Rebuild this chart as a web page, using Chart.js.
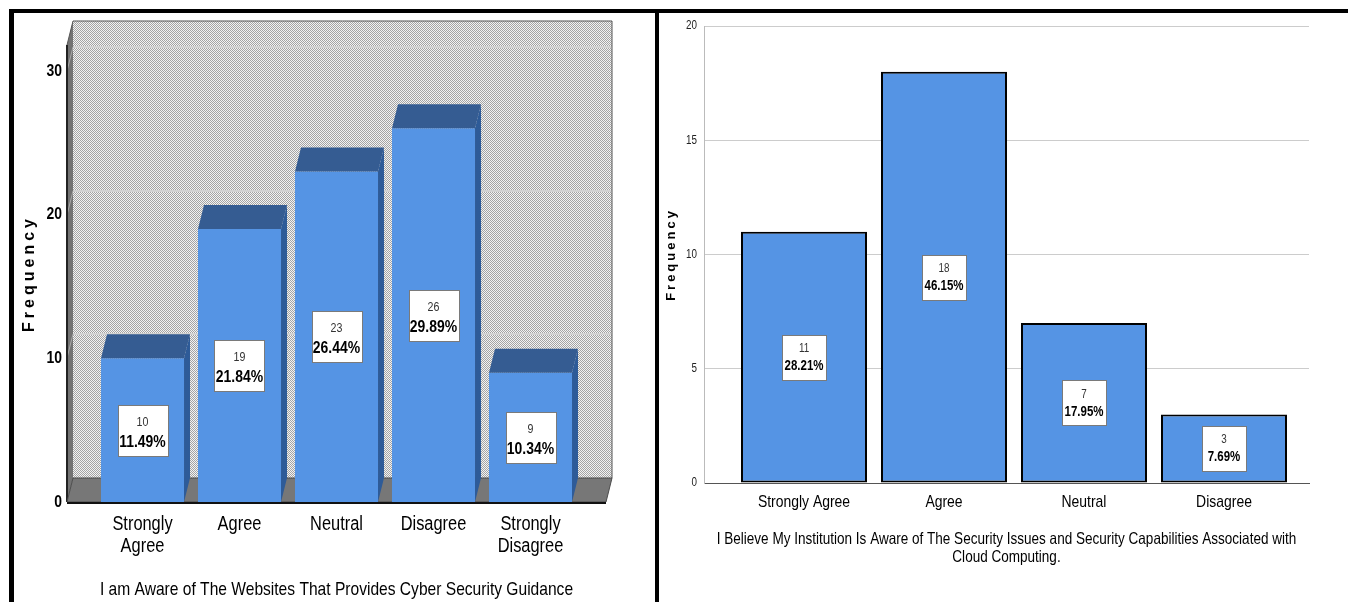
<!DOCTYPE html>
<html>
<head>
<meta charset="utf-8">
<script src="https://cdn.jsdelivr.net/npm/chart.js@4.4.1/dist/chart.umd.min.js"></script>
<style>
  html, body { margin: 0; padding: 0; background: #fff; }
  body { width: 1348px; height: 602px; position: relative; overflow: hidden; }
  canvas { position: absolute; top: 0; }
  #websites { left: 0; }
  #cloud { left: 659px; }
  .rule { position: absolute; background: #000; }
</style>
</head>
<body>
<canvas id="websites" width="655" height="602"></canvas>
<canvas id="cloud" width="689" height="602"></canvas>
<div class="rule" style="left:9px;top:9px;width:1339px;height:4px"></div>
<div class="rule" style="left:9px;top:9px;width:5px;height:593px"></div>
<div class="rule" style="left:655px;top:9px;width:4px;height:593px"></div>
<script>
// ---- data: website awareness survey item ----
const webCategories = ['Strongly Agree', 'Agree', 'Neutral', 'Disagree', 'Strongly Disagree'];
const webCounts = [10, 19, 23, 26, 9];
const webPercents = ['11.49%', '21.84%', '26.44%', '29.89%', '10.34%'];
const webTicks = [0, 10, 20, 30];
const webTitle = 'I am Aware of The Websites That Provides Cyber Security Guidance';

// ---- data: cloud computing security item ----
const cloudCategories = ['Strongly Agree', 'Agree', 'Neutral', 'Disagree'];
const cloudCounts = [11, 18, 7, 3];
const cloudPercents = ['28.21%', '46.15%', '17.95%', '7.69%'];
const cloudTicks = [0, 5, 10, 15, 20];
const cloudTitle = [
  'I Believe My Institution Is Aware of The Security Issues and Security Capabilities Associated with',
  'Cloud Computing.'
];

const NARROW = "'Liberation Sans Narrow', 'Liberation Sans', Arial, sans-serif";
const WIDE = "'Liberation Sans', Arial, sans-serif";
const BAR_BLUE = '#5594e4';
const NARROW_SCALE = 0.82;

// condensed text: any font stack naming the narrow face is drawn horizontally compressed
const narrowText = {
  id: 'narrowText',
  beforeInit(chart) {
    const ctx = chart.ctx;
    const fill = ctx.fillText.bind(ctx);
    ctx.fillText = function (text, x, y, maxWidth) {
      if (!this.font.includes('Narrow')) {
        return maxWidth === undefined ? fill(text, x, y) : fill(text, x, y, maxWidth);
      }
      this.save();
      this.translate(x, y);
      this.scale(NARROW_SCALE, 1);
      if (maxWidth === undefined) fill(text, 0, 0);
      else fill(text, 0, 0, maxWidth / NARROW_SCALE);
      this.restore();
    };
  }
};

// letter-spaced axis title for the vertical "Frequency" caption
const spacedTitle = {
  id: 'spacedTitle',
  afterLayout(chart, args, opts) {
    const s = chart.scales.y;
    if (!s || s.__spaced) return;
    const orig = s.drawTitle;
    s.drawTitle = function () {
      this.ctx.save();
      this.ctx.letterSpacing = opts.spacing + 'px';
      orig.call(this);
      this.ctx.restore();
    };
    s.__spaced = true;
  }
};

// white boxes with count and percentage at the middle of each bar
function valueBoxes(id, counts, percents, box) {
  return {
    id,
    afterDatasetsDraw(chart) {
      const { ctx } = chart;
      chart.getDatasetMeta(0).data.forEach((bar, i) => {
        const cx = bar.x;
        const cy = (bar.y + bar.base) / 2;
        const x0 = Math.round(cx - box.w / 2) + 0.5;
        const y0 = Math.round(cy - box.h / 2) + 0.5;
        ctx.save();
        ctx.fillStyle = '#ffffff';
        ctx.fillRect(x0, y0, box.w, box.h);
        ctx.strokeStyle = '#7a7a7a';
        ctx.lineWidth = 1;
        ctx.strokeRect(x0, y0, box.w, box.h);
        ctx.textAlign = 'center';
        ctx.textBaseline = 'middle';
        ctx.fillStyle = '#333333';
        ctx.font = box.countSize + 'px ' + NARROW;
        ctx.fillText(String(counts[i]), cx, cy + box.countDy);
        ctx.fillStyle = '#000000';
        ctx.font = 'bold ' + box.pctSize + 'px ' + NARROW;
        ctx.fillText(percents[i], cx, cy + box.pctDy);
        ctx.restore();
      });
    }
  };
}

// ---- 3D box scene: back wall, side wall, floor and bar faces ----
const DEPTH = { dx: 6, dy: 24 };
const hatchTile = (() => {
  const c = document.createElement('canvas');
  c.width = 2; c.height = 2;
  const g = c.getContext('2d');
  g.fillStyle = '#f3f3f3';
  g.fillRect(0, 0, 2, 2);
  g.fillStyle = '#a4a4a4';
  g.fillRect(0, 0, 1, 1);
  g.fillRect(1, 1, 1, 1);
  return c;
})();

const boxScene = {
  id: 'boxScene',
  beforeDatasetsDraw(chart) {
    const { ctx, chartArea: a, scales: { y } } = chart;
    const { dx, dy } = DEPTH;
    ctx.save();
    // back wall
    ctx.fillStyle = ctx.createPattern(hatchTile, 'repeat');
    ctx.fillRect(a.left + dx, a.top - dy, a.right - a.left, a.bottom - a.top);
    // left wall
    ctx.fillStyle = '#737373';
    ctx.beginPath();
    ctx.moveTo(a.left, a.top);
    ctx.lineTo(a.left + dx, a.top - dy);
    ctx.lineTo(a.left + dx, a.bottom - dy);
    ctx.lineTo(a.left, a.bottom);
    ctx.closePath();
    ctx.fill();
    // grid lines on the walls
    y.ticks.forEach(t => {
      if (t.value === 0) return;
      const py = Math.round(y.getPixelForValue(t.value));
      ctx.strokeStyle = '#d2d2d2';
      ctx.lineWidth = 2;
      ctx.beginPath();
      ctx.moveTo(a.left + dx, py - dy);
      ctx.lineTo(a.right + dx, py - dy);
      ctx.stroke();
      ctx.strokeStyle = '#a9a9a9';
      ctx.lineWidth = 1;
      ctx.beginPath();
      ctx.moveTo(a.left, py);
      ctx.lineTo(a.left + dx, py - dy);
      ctx.stroke();
    });
    // wall outline
    ctx.strokeStyle = '#555555';
    ctx.lineWidth = 1;
    ctx.beginPath();
    ctx.moveTo(a.left, a.top);
    ctx.lineTo(a.left + dx, a.top - dy);
    ctx.lineTo(a.right + dx, a.top - dy);
    ctx.lineTo(a.right + dx, a.bottom - dy);
    ctx.stroke();
    ctx.strokeStyle = '#222222';
    ctx.lineWidth = 2;
    ctx.beginPath();
    ctx.moveTo(a.left, a.top);
    ctx.lineTo(a.left, a.bottom);
    ctx.stroke();
    // floor
    ctx.fillStyle = '#777777';
    ctx.beginPath();
    ctx.moveTo(a.left, a.bottom);
    ctx.lineTo(a.right, a.bottom);
    ctx.lineTo(a.right + dx, a.bottom - dy);
    ctx.lineTo(a.left + dx, a.bottom - dy);
    ctx.closePath();
    ctx.fill();
    ctx.strokeStyle = '#4a4a4a';
    ctx.lineWidth = 1;
    ctx.stroke();
    ctx.strokeStyle = '#111111';
    ctx.lineWidth = 2;
    ctx.beginPath();
    ctx.moveTo(a.left, a.bottom + 1);
    ctx.lineTo(a.right, a.bottom + 1);
    ctx.stroke();
    ctx.restore();
  },
  afterDatasetsDraw(chart) {
    const { ctx } = chart;
    const { dx, dy } = DEPTH;
    chart.getDatasetMeta(0).data.forEach(bar => {
      const xl = bar.x - bar.width / 2;
      const xr = bar.x + bar.width / 2;
      const top = bar.y;
      const base = bar.base;
      ctx.save();
      // top face
      ctx.fillStyle = '#355c92';
      ctx.beginPath();
      ctx.moveTo(xl, top);
      ctx.lineTo(xl + dx, top - dy);
      ctx.lineTo(xr + dx, top - dy);
      ctx.lineTo(xr, top);
      ctx.closePath();
      ctx.fill();
      // side face
      ctx.fillStyle = '#2e5b98';
      ctx.beginPath();
      ctx.moveTo(xr, top);
      ctx.lineTo(xr + dx, top - dy);
      ctx.lineTo(xr + dx, base - dy);
      ctx.lineTo(xr, base);
      ctx.closePath();
      ctx.fill();
      ctx.restore();
    });
  }
};

new Chart(document.getElementById('websites'), {
  type: 'bar',
  data: {
    datasets: [{
      data: webCounts.map((v, i) => ({ x: i, y: v })),
      backgroundColor: BAR_BLUE,
      borderWidth: 0,
      categoryPercentage: 0.856,
      barPercentage: 1
    }]
  },
  options: {
    responsive: false,
    animation: false,
    devicePixelRatio: 1,
    layout: { padding: { top: 45, right: 49, left: 0, bottom: 0 } },
    plugins: {
      legend: { display: false },
      tooltip: { enabled: false },
      spacedTitle: { spacing: 4 }
    },
    scales: {
      x: {
        type: 'linear',
        offset: false,
        min: -0.5 - 27 / 97,
        max: webCategories.length - 0.5 + 27 / 97,
        afterBuildTicks: s => { s.ticks = webCategories.map((_, i) => ({ value: i })); },
        afterFit: s => { s.height = 100; },
        grid: { display: false, drawTicks: false, offset: false },
        border: { display: false },
        ticks: {
          autoSkip: false,
          maxRotation: 0,
          padding: 11,
          color: '#000',
          font: { family: NARROW, size: 20, lineHeight: 1.1 },
          callback: v => webCategories[v].split(' ')
        },
        title: {
          display: true,
          text: webTitle,
          color: '#000',
          font: { family: NARROW, size: 19, lineHeight: 1.2 },
          padding: { top: 0, bottom: 1 }
        }
      },
      y: {
        min: 0,
        max: 31.8,
        afterBuildTicks: s => { s.ticks = webTicks.map(v => ({ value: v })); },
        afterFit: s => { s.width = 67; },
        grid: { display: false, drawTicks: false },
        border: { display: false },
        ticks: {
          padding: 5,
          color: '#000',
          font: { family: NARROW, size: 17, weight: 'bold' }
        },
        title: {
          display: true,
          text: 'Frequency',
          color: '#000',
          font: { family: WIDE, size: 16, weight: 'bold', lineHeight: 1.2 },
          padding: { top: 20, bottom: 0 }
        }
      }
    }
  },
  plugins: [narrowText, boxScene, spacedTitle,
    valueBoxes('webBoxes', webCounts, webPercents,
      { w: 50, h: 51, countSize: 13, pctSize: 17, countDy: -8, pctDy: 12 })]
});

new Chart(document.getElementById('cloud'), {
  type: 'bar',
  data: {
    datasets: [{
      data: cloudCounts.map((v, i) => ({ x: i, y: v })),
      backgroundColor: BAR_BLUE,
      borderColor: '#000',
      borderWidth: 2,
      borderSkipped: false,
      categoryPercentage: 0.9,
      barPercentage: 1
    }]
  },
  options: {
    responsive: false,
    animation: false,
    devicePixelRatio: 1,
    layout: { padding: { top: 26, right: 39, left: 0, bottom: 0 } },
    plugins: {
      legend: { display: false },
      tooltip: { enabled: false },
      spacedTitle: { spacing: 3 }
    },
    scales: {
      x: {
        type: 'linear',
        offset: false,
        min: -100 / 140,
        max: cloudCategories.length - 1 + 85 / 140,
        afterBuildTicks: s => { s.ticks = cloudCategories.map((_, i) => ({ value: i })); },
        afterFit: s => { s.height = 119; },
        grid: { display: false, drawTicks: false, offset: false },
        border: { display: true, color: '#555', width: 1 },
        ticks: {
          autoSkip: false,
          maxRotation: 0,
          padding: 9,
          color: '#000',
          font: { family: NARROW, size: 17 },
          callback: v => cloudCategories[v]
        },
        title: {
          display: true,
          text: cloudTitle,
          color: '#000',
          font: { family: NARROW, size: 16.5, lineHeight: 1.1 },
          padding: { top: 0, bottom: 35 }
        }
      },
      y: {
        min: 0,
        max: 20,
        afterBuildTicks: s => { s.ticks = cloudTicks.map(v => ({ value: v })); },
        afterFit: s => { s.width = 45; },
        grid: { color: '#cccccc', lineWidth: 1, drawTicks: false },
        border: { display: true, color: '#bbbbbb', width: 1 },
        ticks: {
          padding: 7,
          color: '#222',
          font: { family: NARROW, size: 12 }
        },
        title: {
          display: true,
          text: 'Frequency',
          color: '#000',
          font: { family: WIDE, size: 13, weight: 'bold', lineHeight: 1.2 },
          padding: { top: 5, bottom: 0 }
        }
      }
    }
  },
  plugins: [narrowText, spacedTitle,
    valueBoxes('cloudBoxes', cloudCounts, cloudPercents,
      { w: 44, h: 45, countSize: 12, pctSize: 14, countDy: -8.5, pctDy: 9 })]
});
</script>
</body>
</html>
